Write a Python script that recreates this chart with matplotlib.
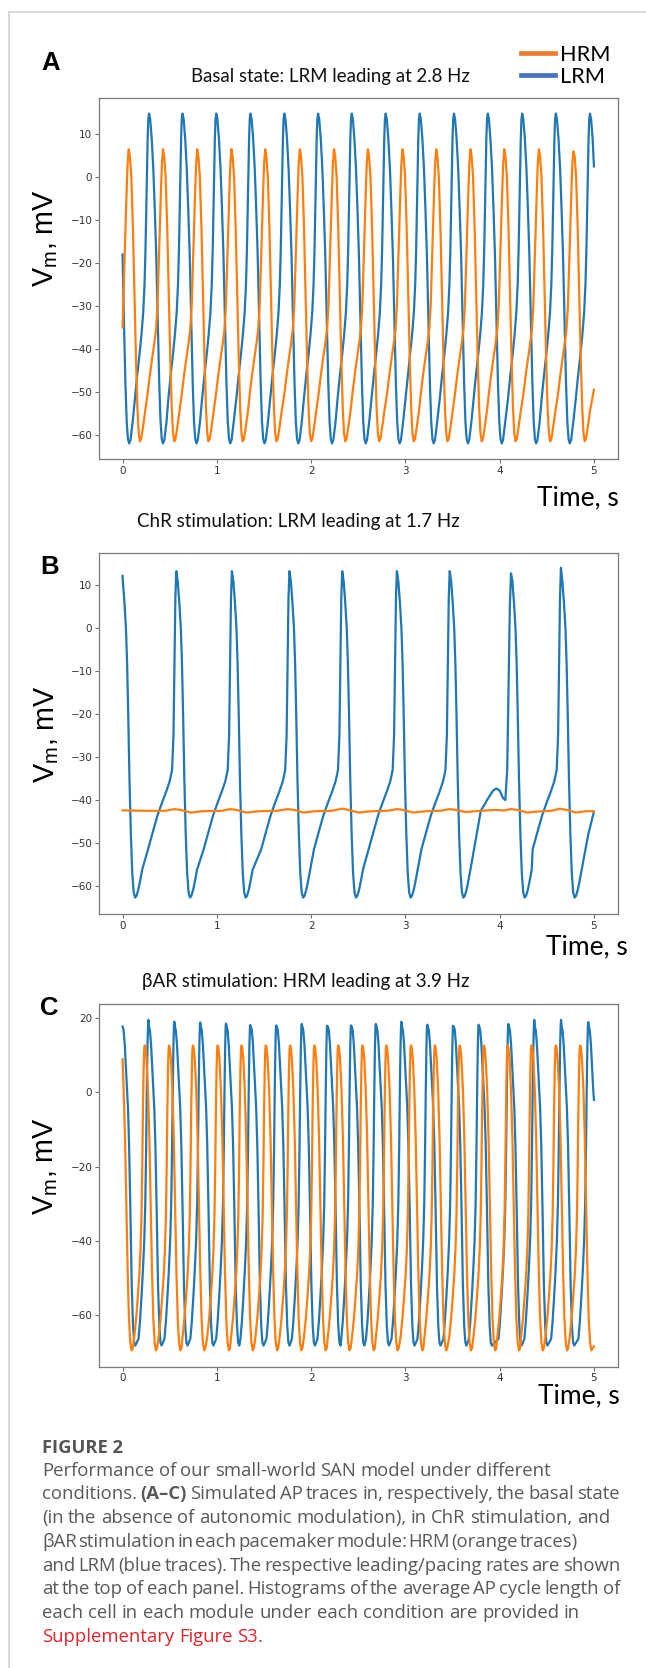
import matplotlib
matplotlib.use("Agg")
import matplotlib.pyplot as plt
from matplotlib.lines import Line2D

W, H = 646, 1668
BLUE, ORANGE = "#1f77b4", "#ff7f0e"
GREY = "#58595b"
RED = "#e3242b"

# ---------------- panel A: basal state ----------------
# LRM (blue): peak times / values, shape after a peak and before the next one
a_lrm_peak_t = [-0.078, 0.281, 0.636, 0.994, 1.357, 1.716, 2.074, 2.431, 2.791, 3.152,
                3.515, 3.874, 4.239, 4.596, 4.958]
a_lrm_peak_v = [14.8, 14.8, 14.8, 14.8, 14.8, 14.8, 14.8, 14.8, 14.8, 14.8,
                14.8, 14.8, 14.8, 14.8, 14.8]
a_lrm_down_dt = [0.012, 0.028, 0.045, 0.060, 0.076, 0.092, 0.108, 0.122, 0.135, 0.148, 0.162, 0.185]
a_lrm_down_v = [13.5, 9, 2, -7, -18, -33, -48, -57, -61, -62, -61.2, -57]
a_lrm_up_dt = [-0.150, -0.125, -0.100, -0.080, -0.062, -0.048, -0.038, -0.030, -0.022, -0.015, -0.008]
a_lrm_up_v = [-51.5, -46, -41, -36.5, -31.5, -25, -17, -8, 2, 9, 13.5]
a_lrm_head = ([0.0], [-18.0])
a_lrm_tail = ([5.0], [2.5])

# HRM (orange)
a_hrm_peak_t = [-0.299, 0.065, 0.429, 0.792, 1.155, 1.513, 1.880, 2.243, 2.602, 2.969,
                3.327, 3.690, 4.049, 4.416, 4.783]
a_hrm_peak_v = [6.5, 6.5, 6.5, 6.5, 6.5, 6.5, 6.5, 6.5, 6.5, 6.5,
                6.5, 6.5, 6.5, 6.5, 6.0]
a_hrm_down_dt = [0.012, 0.028, 0.045, 0.062, 0.078, 0.093, 0.106, 0.119, 0.132, 0.150, 0.175]
a_hrm_down_v = [5, 0, -12, -28, -43, -54, -59.5, -61.5, -61, -58.5, -54.5]
a_hrm_up_dt = [-0.164, -0.139, -0.114, -0.094, -0.074, -0.059, -0.046, -0.034, -0.023, -0.012]
a_hrm_up_v = [-50.5, -46, -42, -39, -35.5, -30, -21, -12, -4, 3]
a_hrm_head = ([0.0], [-35.0])
a_hrm_tail = ([5.0], [-49.5])

# ---------------- panel B: ChR stimulation ----------------
b_lrm_peak_t = [-0.012, 0.57, 1.16, 1.77, 2.33, 2.91, 3.47, 4.12, 4.65]
b_lrm_peak_v = [13.3, 13.3, 13.3, 13.3, 13.3, 13.3, 13.3, 12.8, 14.1]
b_lrm_down_dt = [0.015, 0.032, 0.048, 0.060, 0.072, 0.085, 0.100, 0.115, 0.130, 0.145, 0.160,
                 0.180, 0.200, 0.220]
b_lrm_down_v = [11, 6, 0, -8, -20, -35, -48, -57, -61.5, -62.7, -62.3, -60.8, -58.6, -56.2]
b_lrm_up_dt = [-0.30, -0.25, -0.20, -0.15, -0.105, -0.070, -0.045, -0.030, -0.020, -0.010]
b_lrm_up_v = [-51.5, -47.5, -43.6, -40.5, -37.9, -35.6, -33, -25, -8, 7]
# aborted beat before the upstroke at ~4.1 s
b_bump_t = [3.80, 3.88, 3.93, 3.965, 4.00, 4.035, 4.06, 4.08, 4.095, 4.108]
b_bump_v = [-42.5, -39.5, -37.8, -37.3, -37.8, -39.5, -40.0, -33, -12, 5]
b_lrm_head = ([0.0], [12.2])
b_lrm_tail = ([4.94, 5.0], [-48.0, -42.7])

b_hrm_t = [0.0, 0.25, 0.45, 0.55, 0.62, 0.72, 0.85, 1.05, 1.14, 1.21, 1.31, 1.45, 1.64, 1.75,
           1.82, 1.92, 2.05, 2.22, 2.33, 2.40, 2.50, 2.65, 2.81, 2.91, 2.98, 3.08, 3.22, 3.37,
           3.47, 3.54, 3.64, 3.80, 3.95, 4.05, 4.12, 4.19, 4.29, 4.45, 4.55, 4.64, 4.71, 4.81,
           4.92, 5.0]
b_hrm_v = [-42.4, -42.5, -42.5, -42.1, -42.3, -42.9, -42.6, -42.5, -42.1, -42.3, -42.9, -42.6,
           -42.5, -42.1, -42.3, -42.9, -42.6, -42.5, -42.0, -42.3, -42.9, -42.6, -42.5, -42.1,
           -42.3, -42.9, -42.6, -42.5, -42.1, -42.3, -42.8, -42.5, -42.3, -42.4, -42.1, -42.3,
           -42.9, -42.6, -42.5, -42.0, -42.3, -42.9, -42.6, -42.6]

# ---------------- panel C: bAR stimulation ----------------
c_lrm_peak_t = [-0.005, 0.274, 0.549, 0.824, 1.098, 1.355, 1.631, 1.901, 2.172, 2.425, 2.687,
                2.958, 3.233, 3.508, 3.778, 4.093, 4.367, 4.651, 4.940]
c_lrm_peak_v = [19.0, 19.6, 19.1, 18.9, 18.6, 18.2, 18.1, 18.5, 18.0, 18.1, 18.5, 19.1, 18.3,
                18.0, 18.3, 18.5, 19.6, 19.6, 19.0]
c_lrm_down_dt = [0.008, 0.016, 0.028, 0.040, 0.052, 0.062, 0.074, 0.088, 0.102, 0.116, 0.128, 0.140]
c_lrm_down_v = [17.6, 16.8, 13, 7, 1, -4, -14, -32, -52, -63, -67.5, -68.3]
c_lrm_up_dt = [-0.105, -0.090, -0.074, -0.058, -0.044, -0.033, -0.024, -0.017, -0.010, -0.004]
c_lrm_up_v = [-66.5, -62, -55.5, -48, -40, -30, -15, 0, 12, 18]
c_lrm_head = ([0.0], [17.8])
c_lrm_tail = ([5.0], [-2.0])

c_hrm_peak_t = [-0.024, 0.234, 0.493, 0.746, 1.008, 1.261, 1.519, 1.776, 2.034, 2.287, 2.544,
                2.797, 3.059, 3.312, 3.575, 3.832, 4.085, 4.337, 4.595, 4.853]
c_hrm_peak_v = [12.7, 12.7, 12.7, 12.7, 12.7, 12.7, 12.7, 12.7, 12.7, 12.7, 12.7, 12.7, 12.7,
                12.7, 12.7, 12.7, 12.7, 12.7, 12.7, 12.7]
c_hrm_down_dt = [0.008, 0.020, 0.035, 0.050, 0.064, 0.078, 0.092, 0.106, 0.120, 0.132]
c_hrm_down_v = [12.2, 9, 1, -12, -30, -48, -61, -67.5, -69.6, -69]
c_hrm_up_dt = [-0.110, -0.090, -0.072, -0.056, -0.043, -0.033, -0.025, -0.018, -0.011, -0.005]
c_hrm_up_v = [-66, -61, -55, -49, -42, -33, -20, -5, 6, 11.5]
c_hrm_head = ([0.0], [9.0])
c_hrm_tail = ([5.0], [-68.5])

titles = ["Basal state: LRM leading at 2.8 Hz",
          "ChR stimulation: LRM leading at 1.7 Hz",
          "\u03b2AR stimulation: HRM leading at 3.9 Hz"]
panel_letters = ["A", "B", "C"]

caption_head = "FIGURE 2"
caption_lines = [
    "Performance of our small-world SAN model under different",
    "conditions. *(A\u2013C) Simulated AP traces in, respectively, the basal state",
    "(in the absence of autonomic modulation), in ChR stimulation, and",
    "\u03b2AR stimulation in each pacemaker module: HRM (orange traces)",
    "and LRM (blue traces). The respective leading/pacing rates are shown",
    "at the top of each panel. Histograms of the average AP cycle length of",
    "each cell in each module under each condition are provided in",
    "~Supplementary ~Figure ~S3|.",
]
caption_widths = [509, 578, 568, 536, 578, 578, 538, None]


def build_trace(peaks, peak_v, down_dt, down_v, up_dt, up_v, head, tail, override=None):
    override = override or {}
    t, v = [], []
    for i, p in enumerate(peaks):
        if i > 0:
            if i in override:
                t += list(override[i][0])
                v += list(override[i][1])
            else:
                t += [p + d for d in up_dt]
                v += list(up_v)
        t.append(p)
        v.append(peak_v[i])
        t += [p + d for d in down_dt]
        v += list(down_v)
    keep = [(a, b) for a, b in zip(t, v) if head[0][-1] < a < tail[0][0]]
    tt = list(head[0]) + [a for a, _ in keep] + list(tail[0])
    vv = list(head[1]) + [b for _, b in keep] + list(tail[1])
    return tt, vv


def fx(x):
    return x / W


def fy(y):
    return 1 - y / H


fig = plt.figure(figsize=(W / 100, H / 100), dpi=100)
plt.rcParams["mathtext.fontset"] = "custom"
plt.rcParams["mathtext.rm"] = "Liberation Sans"
renderer = fig.canvas.get_renderer()


def fit(t, target, vertical=False):
    bb = t.get_window_extent(renderer)
    size = bb.height if vertical else bb.width
    t.set_fontsize(t.get_fontsize() * target / size)
    return t


# axes boxes in pixels: (top, bottom)
boxes = [(97.7, 459.3), (552.7, 914.3), (1004.3, 1366.7)]
ylims = [(-65.7, 18.5), (-66.6, 17.6), (-74.0, 23.8)]
yticks = [[-60, -50, -40, -30, -20, -10, 0, 10],
          [-60, -50, -40, -30, -20, -10, 0, 10],
          [-60, -40, -20, 0, 20]]

traces = [
    [build_trace(a_lrm_peak_t, a_lrm_peak_v, a_lrm_down_dt, a_lrm_down_v, a_lrm_up_dt,
                 a_lrm_up_v, a_lrm_head, a_lrm_tail),
     build_trace(a_hrm_peak_t, a_hrm_peak_v, a_hrm_down_dt, a_hrm_down_v, a_hrm_up_dt,
                 a_hrm_up_v, a_hrm_head, a_hrm_tail)],
    [build_trace(b_lrm_peak_t, b_lrm_peak_v, b_lrm_down_dt, b_lrm_down_v, b_lrm_up_dt,
                 b_lrm_up_v, b_lrm_head, b_lrm_tail, override={7: (b_bump_t, b_bump_v)}),
     (b_hrm_t, b_hrm_v)],
    [build_trace(c_lrm_peak_t, c_lrm_peak_v, c_lrm_down_dt, c_lrm_down_v, c_lrm_up_dt,
                 c_lrm_up_v, c_lrm_head, c_lrm_tail),
     build_trace(c_hrm_peak_t, c_hrm_peak_v, c_hrm_down_dt, c_hrm_down_v, c_hrm_up_dt,
                 c_hrm_up_v, c_hrm_head, c_hrm_tail)],
]

left, right = 99.0, 617.5
for k, (top, bot) in enumerate(boxes):
    ax = fig.add_axes([fx(left), fy(bot), (right - left) / W, (bot - top) / H])
    (tb, vb), (to, vo) = traces[k]
    ax.plot(tb, vb, color=BLUE, lw=1.6, solid_joinstyle="round")
    ax.plot(to, vo, color=ORANGE, lw=1.6, solid_joinstyle="round")
    ax.set_xlim(-0.25, 5.25)
    ax.set_ylim(*ylims[k])
    ax.set_xticks([0, 1, 2, 3, 4, 5])
    ax.set_yticks(yticks[k])
    ax.tick_params(labelsize=7.5, length=3, width=0.8, pad=1.8, colors="#6e6e6e",
                   labelcolor="#333333")
    for s in ax.spines.values():
        s.set_color("#7a7a7a")
        s.set_linewidth(0.9)

# titles, letters, axis labels
title_pos = [(330, 76.7, 279), (298.7, 522, 323), (306, 981, 328)]
for (x, y, w), txt in zip(title_pos, titles):
    fit(fig.text(fx(x), fy(y), txt, family="Lato", fontsize=14, color="#111111",
                 ha="center", va="center"), w)

letter_pos = [(41, 63.3), (40, 566.7), (40, 1008)]
for (x, y), txt in zip(letter_pos, panel_letters):
    fig.text(fx(x), fy(y), txt, family="Liberation Sans", fontweight="bold", fontsize=18.5,
             ha="left", va="center")

ylab_pos = [(45.5, 238.4), (46.4, 734), (46, 1166)]
for x, y in ylab_pos:
    fit(fig.text(fx(x), fy(y), r"$\mathrm{V_m}$, mV", family="Liberation Sans", fontsize=21,
                 rotation=90, ha="center", va="center"), 98, vertical=True)

xlab_pos = [(619, 498), (628, 947), (619.3, 1396)]
for x, y in xlab_pos:
    fit(fig.text(fx(x), fy(y), "Time, s", family="Lato", fontsize=20, ha="right",
                 va="center"), 82)

# legend
tmp = fig.text(0, 0, "HRM", family="Lato", fontsize=10)
bb = tmp.get_window_extent(renderer)
leg_fs = 10 * 50 / bb.width
tmp.remove()
fs_px = leg_fs * 100 / 72
handles = [Line2D([], [], color="#ed7d31", lw=3.4), Line2D([], [], color="#4472c4", lw=3.4)]
fig.legend(handles, ["HRM", "LRM"], loc="center left", bbox_to_anchor=(fx(521), fy(65.8)),
           frameon=False, prop={"family": "Lato", "size": leg_fs}, borderpad=0,
           borderaxespad=0, handlelength=34 / fs_px, handletextpad=5 / fs_px,
           labelspacing=0.1)

# light frame around the figure
fig.add_artist(Line2D([fx(9.3), 1.0], [fy(11.7), fy(11.7)], color="#d2d2d2", lw=1.2))
fig.add_artist(Line2D([fx(9.3), fx(9.3)], [fy(11.7), 0.0], color="#d2d2d2", lw=1.2))

# caption
cap_font = "Open Sans"
head = fig.text(fx(42), fy(1452.6), caption_head, family=cap_font, fontweight="bold",
                fontsize=13, color="#555555", ha="left", va="baseline")
fit(head, 81)
probe = fig.text(0, 0, caption_lines[0], family=cap_font, fontsize=10)
cap_fs = 10 * caption_widths[0] / probe.get_window_extent(renderer).width
probe.remove()


def piece_style(p):
    if p.startswith("*"):
        return p[1:], {"fontweight": "bold", "color": GREY}
    if p.startswith("~"):
        return p[1:], {"color": RED}
    return p, {"color": GREY}


def measure(s, style):
    t = fig.text(0, 0, s, family=cap_font, fontsize=cap_fs, **style)
    w = t.get_window_extent(renderer).width
    t.remove()
    return w


space_w = measure("a a", {}) - measure("aa", {})
for i, line in enumerate(caption_lines):
    y = fy(1475.5 + 23.8 * i)
    words = []
    for word in line.split(" "):
        pieces = [piece_style(p) for p in word.split("|")]
        widths = [measure(s, st) for s, st in pieces]
        words.append((pieces, widths))
    total = sum(sum(w) for _, w in words)
    if caption_widths[i] is not None and len(words) > 1:
        gap = (caption_widths[i] - total) / (len(words) - 1)
    else:
        gap = space_w
    x = 42.0
    for pieces, widths in words:
        for (s, st), w in zip(pieces, widths):
            fig.text(fx(x), y, s, family=cap_font, fontsize=cap_fs, ha="left",
                     va="baseline", **st)
            x += w
        x += gap

fig.savefig("out.png", dpi=100, facecolor="white")
